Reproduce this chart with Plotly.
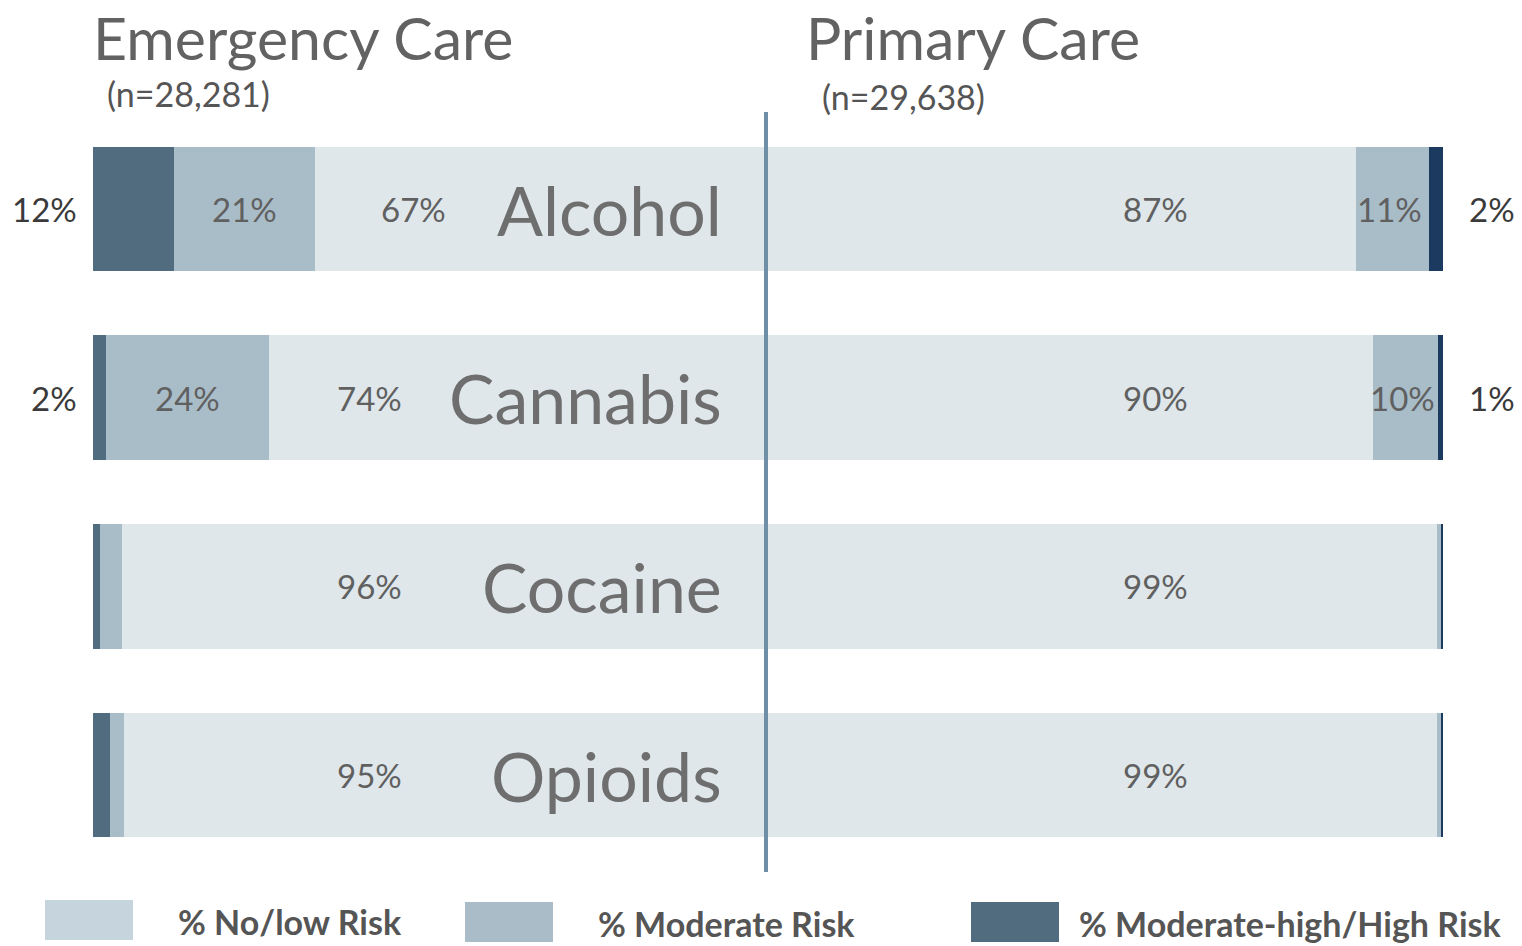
import plotly.graph_objects as go

# ---------------- data ----------------
substances = ["Alcohol", "Cannabis", "Cocaine", "Opioids"]

ec_high = [12.0, 1.9, 1.0, 2.5]
ec_moderate = [21.0, 24.2, 3.3, 2.1]
ec_low = [67.0, 73.9, 95.7, 95.4]

pc_low = [87.2, 89.6, 99.1, 99.1]
pc_moderate = [10.7, 9.6, 0.6, 0.6]
pc_high = [2.1, 0.8, 0.3, 0.3]

ec_title, ec_n = "Emergency Care", "(n=28,281)"
pc_title, pc_n = "Primary Care", "(n=29,638)"
legend_labels = ["% No/low Risk", "% Moderate Risk", "% Moderate-high/High Risk"]

# ---------------- style ----------------
W, H = 1522, 946
FONT = "Lato, 'Open Sans', sans-serif"
C_LOW = "#dfe7eb"
C_MOD = "#a9bdc9"
C_HIGH_L = "#506c7e"
C_HIGH_R = "#1c3960"
TXT = "#606060"
ec_low_label_x = [47.5, 41.0, 41.0, 41.0]
pc_low_label_x = 57.4
BAR_W = 0.662


def px(x):
    return x / W


def py(y):
    return 1 - y / H


ypos = list(range(len(substances)))

fig = go.Figure()

for vals, col in [(ec_high, C_HIGH_L), (ec_moderate, C_MOD), (ec_low, C_LOW)]:
    fig.add_trace(go.Bar(y=ypos, x=vals, orientation="h", marker=dict(color=col, line=dict(width=0)),
                         width=BAR_W, xaxis="x", yaxis="y", showlegend=False, hoverinfo="skip"))
for vals, col in [(pc_low, C_LOW), (pc_moderate, C_MOD), (pc_high, C_HIGH_R)]:
    fig.add_trace(go.Bar(y=ypos, x=vals, orientation="h", marker=dict(color=col, line=dict(width=0)),
                         width=BAR_W, xaxis="x2", yaxis="y", showlegend=False, hoverinfo="skip"))

ann = []
pct_font = dict(family=FONT, size=33, color=TXT)
out_font = dict(family=FONT, size=33, color="#3a3a3a")
for i, name in enumerate(substances):
    show = ec_moderate[i] >= 5
    # left panel
    if show:
        ann.append(dict(x=0, y=i, xref="x", yref="y", text=f"{ec_high[i]:.0f}%", xanchor="right",
                        xshift=-14, showarrow=False, font=out_font))
        ann.append(dict(x=ec_high[i] + ec_moderate[i] / 2, y=i, xref="x", yref="y",
                        text=f"{ec_moderate[i]:.0f}%", showarrow=False, font=pct_font))
    ann.append(dict(x=ec_low_label_x[i], y=i, xref="x", yref="y", text=f"{ec_low[i]:.0f}%",
                    showarrow=False, font=pct_font))
    ann.append(dict(x=93.6, y=i, xref="x", yref="y", text=name, xanchor="right", showarrow=False,
                    font=dict(family=FONT, size=68, color="#6e6e6e")))
    # right panel
    ann.append(dict(x=pc_low_label_x, y=i, xref="x2", yref="y", text=f"{pc_low[i]:.0f}%",
                    showarrow=False, font=pct_font))
    if pc_moderate[i] >= 5:
        ann.append(dict(x=pc_low[i] + pc_moderate[i] / 2, y=i, xref="x2", yref="y",
                        text=f"{pc_moderate[i]:.0f}%", xshift=-3, showarrow=False, font=pct_font))
        ann.append(dict(x=100, y=i, xref="x2", yref="y", text=f"{pc_high[i]:.0f}%", xanchor="left",
                        xshift=24, showarrow=False, font=out_font))

# titles
ann.append(dict(x=px(91), y=py(37), xref="paper", yref="paper", text=ec_title, xanchor="left",
                yanchor="middle", showarrow=False, font=dict(family=FONT, size=59, color="#626262")))
ann.append(dict(x=px(105), y=py(93), xref="paper", yref="paper", text=ec_n, xanchor="left",
                yanchor="middle", showarrow=False, font=dict(family=FONT, size=34, color="#555555")))
ann.append(dict(x=px(804), y=py(37), xref="paper", yref="paper", text=pc_title, xanchor="left",
                yanchor="middle", showarrow=False, font=dict(family=FONT, size=59, color="#626262")))
ann.append(dict(x=px(820), y=py(97), xref="paper", yref="paper", text=pc_n, xanchor="left",
                yanchor="middle", showarrow=False, font=dict(family=FONT, size=34, color="#555555")))

shapes = []
# divider
shapes.append(dict(type="line", xref="paper", yref="paper", x0=px(766), x1=px(766), y0=py(112), y1=py(872),
                   line=dict(color="#6f8fa6", width=4)))

# legend
leg_colors = ["#c6d4dd", "#a9bcc8", "#506c7e"]
leg_box_x = [45, 465, 971]
leg_text_x = [176, 596, 1077]
leg_y = [920, 922, 922]
for lab, col, bx, tx, ly in zip(legend_labels, leg_colors, leg_box_x, leg_text_x, leg_y):
    shapes.append(dict(type="rect", xref="paper", yref="paper", x0=px(bx), x1=px(bx + 88),
                       y0=py(ly - 20), y1=py(ly + 20), fillcolor=col, line=dict(width=0)))
    ann.append(dict(x=px(tx), y=py(ly + 1), xref="paper", yref="paper", text=f"<b>{lab}</b>", xanchor="left",
                    yanchor="middle", showarrow=False, font=dict(family=FONT, size=34, color="#555555")))

# y-axis mapping: row centres at pixel 209 + 188.67*i
ymin = -209 / 188.67
ymax = 3 + (H - 775) / 188.67

fig.update_layout(
    width=W, height=H, margin=dict(l=0, r=0, t=0, b=0),
    paper_bgcolor="white", plot_bgcolor="rgba(0,0,0,0)",
    barmode="stack", bargap=0,
    xaxis=dict(domain=[px(93), px(767)], range=[0, 100], visible=False, fixedrange=True),
    xaxis2=dict(domain=[px(767), px(1443)], range=[0, 100], visible=False, fixedrange=True, anchor="y"),
    yaxis=dict(domain=[0, 1], range=[ymax, ymin], visible=False, fixedrange=True),
    annotations=ann, shapes=shapes, showlegend=False,
)

fig.write_html("out.html", config={"displayModeBar": False},
               post_script="document.body.style.margin='0';document.body.style.overflow='hidden';")
